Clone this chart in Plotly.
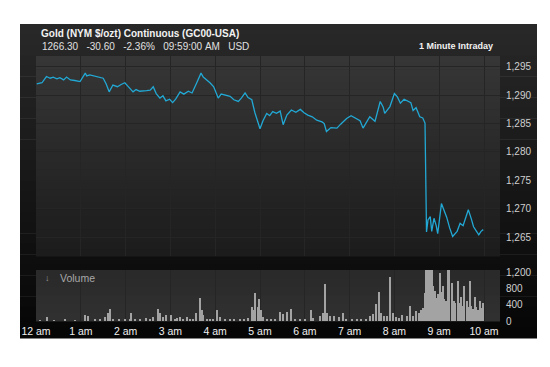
import pandas as pd
import plotly.graph_objects as go

# ---------------- data ----------------
# minutes after midnight, price
price_minutes = [1, 8, 14, 19, 23, 28, 32, 37, 41, 46, 52, 59, 66, 68, 72, 79, 86, 90, 94, 98,
                 103, 109, 114, 119, 123, 130, 134, 139, 148, 153, 157, 161, 166, 170, 174, 179,
                 183, 187, 193, 198, 204, 209, 215, 221, 224, 229, 233, 238, 244, 248, 254, 260,
                 265, 271, 275, 280, 284, 289, 293, 300, 304, 309, 313, 317, 322, 327, 331, 336,
                 342, 348, 354, 359, 364, 370, 376, 383, 386, 389, 395, 403, 408, 416, 422, 429,
                 434, 438, 442, 447, 454, 461, 465, 467, 474, 480, 484, 488, 493, 498, 502, 505,
                 509, 514, 518, 521, 523, 525, 528, 530, 533, 536, 538, 543, 546, 550, 554, 558,
                 564, 568, 572, 576, 579, 583, 586, 590, 593, 596, 599]
price_values = [1292.0, 1292.2, 1293.3, 1293.0, 1293.2, 1292.9, 1293.1, 1292.7, 1293.2, 1292.7,
                1292.6, 1292.4, 1293.9, 1293.4, 1293.6, 1293.4, 1293.2, 1293.0, 1292.0, 1290.6,
                1291.8, 1291.5, 1291.9, 1292.2, 1291.6, 1290.6, 1291.0, 1290.7, 1290.8, 1290.9,
                1291.5, 1290.3, 1289.5, 1289.9, 1289.0, 1289.3, 1288.7, 1289.3, 1290.6, 1290.2,
                1290.7, 1290.4, 1292.1, 1293.9, 1293.2, 1292.7, 1292.2, 1291.5, 1289.5, 1290.2,
                1290.0, 1289.8, 1289.2, 1288.9, 1289.5, 1290.4, 1289.6, 1289.2, 1287.0, 1284.1,
                1285.5, 1286.8, 1286.4, 1287.1, 1286.8, 1287.2, 1284.8, 1286.5, 1287.4, 1287.0,
                1287.5, 1286.9, 1286.5, 1286.2, 1285.6, 1285.3, 1285.0, 1283.6, 1284.3, 1284.2,
                1284.9, 1285.9, 1286.4, 1285.9, 1285.5, 1284.2, 1285.0, 1286.2, 1285.4, 1288.9,
                1287.9, 1286.8, 1288.0, 1290.3, 1289.7, 1288.6, 1289.3, 1288.9, 1288.7, 1287.3,
                1287.8, 1286.2, 1286.0, 1285.1, 1265.9, 1268.0, 1268.6, 1266.0, 1268.3, 1267.0,
                1265.6, 1270.9, 1270.0, 1268.5, 1266.6, 1265.1, 1266.0, 1267.4, 1267.0, 1268.4,
                1269.8, 1268.2, 1266.8, 1266.0, 1265.4, 1266.0, 1266.3]

# minutes after midnight, volume (contracts)
volume_minutes = [5, 15, 25, 39, 52, 66, 70, 79, 86, 92, 96, 99, 103, 112, 119, 126, 128, 133, 139,
                  147, 153, 157, 163, 166, 170, 175, 181, 186, 189, 193, 197, 202, 206, 210, 215,
                  220, 222, 224, 229, 233, 237, 242, 246, 253, 260, 266, 273, 279, 284, 289, 291,
                  294, 297, 299, 301, 304, 309, 315, 320, 327, 331, 336, 342, 347, 354, 360, 368,
                  371, 380, 384, 387, 390, 394, 400, 406, 411, 416, 423, 430, 436, 442, 447, 451,
                  456, 460, 462, 466, 470, 475, 478, 482, 487, 491, 497, 501, 505, 509, 513, 516,
                  518, 521, 523, 525, 527, 528, 530, 532, 533, 535, 537, 539, 541, 543, 545, 547,
                  549, 552, 554, 557, 558, 560, 562, 565, 567, 569, 571, 573, 574, 577, 579, 581,
                  583, 585, 588, 590, 592, 595, 597, 599]
volume_values = [20, 90, 20, 30, 20, 150, 120, 30, 40, 100, 190, 285, 60, 30, 40, 50, 190, 60, 40,
                 70, 40, 90, 290, 190, 90, 150, 140, 60, 80, 110, 60, 100, 40, 50, 190,
                 555, 270, 150, 60, 60, 40, 270, 100, 40, 30, 40, 30, 60, 80, 350, 270,
                 680, 350, 530, 270, 110, 50, 30, 40, 220, 180, 220, 300, 40, 40, 50, 270,
                 80, 120, 200, 915, 200, 120, 130, 100, 200, 50, 40, 40, 50, 40, 130, 160,
                 405, 710, 200, 120, 130, 1090, 200, 100, 80, 150, 120, 365, 120, 240, 200, 260,
                 325, 690, 1300, 1300, 1300, 1300, 1300, 850, 620, 730, 560, 650, 1180, 700, 850, 530,
                 480, 1300, 1300, 700, 930, 480, 440, 970, 450, 600, 380, 500, 850, 500, 350, 970,
                 360, 300, 600, 350, 280, 480, 320, 450]

price_ticks = [1265, 1270, 1275, 1280, 1285, 1290, 1295]
volume_ticks = [0, 400, 800, 1200]
volume_tick_labels = ["0", "400", "800", "1,200"]
hour_labels = ["12 am", "1 am", "2 am", "3 am", "4 am", "5 am", "6 am", "7 am", "8 am", "9 am", "10 am"]

title_text = "Gold (NYM $/ozt) Continuous (GC00-USA)"
info_text = "1266.30   -30.60   -2.36%   09:59:00 AM   USD"
interval_text = "1 Minute Intraday"

# ---------------- build ----------------
base = pd.Timestamp("2013-06-07 00:00")
px_t = [base + pd.Timedelta(minutes=m) for m in price_minutes]
vol_t = [base + pd.Timedelta(minutes=m) for m in volume_minutes]
hour_t = [base + pd.Timedelta(hours=h) for h in range(len(hour_labels))]

# page offset of the figure in the browser (body margin)
OFF = 8
W, H = 550, 367
L, R, T, B = 36, 500, 56, 321   # plot area in window pixels
PW, PH = R - L, B - T


def fx(px):
    return (px - L) / PW


def fy(py):
    return (B - py) / PH


def hexmix(c1, c2, t):
    a = [int(c1[i:i + 2], 16) for i in (1, 3, 5)]
    b = [int(c2[i:i + 2], 16) for i in (1, 3, 5)]
    return "#%02x%02x%02x" % tuple(round(a[i] + (b[i] - a[i]) * t) for i in range(3))


def gradient(x0, x1, y0, y1, ctop, cbot, n=24):
    out = []
    h = (y1 - y0) / n
    for i in range(n):
        out.append(dict(type="rect", xref="paper", yref="paper", layer="below",
                        x0=fx(x0), x1=fx(x1), y0=fy(y0 + (i + 1) * h + 0.5), y1=fy(y0 + i * h),
                        fillcolor=hexmix(ctop, cbot, i / (n - 1)), line=dict(width=0)))
    return out


shapes = []
shapes += gradient(20, 537, 24, 338, "#282828", "#060606", 30)   # outer dark panel
shapes += gradient(36, 500, 56, 256, "#363636", "#1c1c1c", 30)   # price panel
shapes += gradient(36, 500, 270, 321, "#2a2a2a", "#303030", 6)   # volume panel

price_dom = [fy(256), 1.0]
vol_dom = [0.0, fy(270)]
x_end = base + pd.Timedelta(minutes=PW * 60 / 44.8)

fig = go.Figure()
fig.add_trace(go.Scatter(x=px_t, y=price_values, mode="lines",
                         line=dict(color="#22a8d4", width=1.3), xaxis="x", yaxis="y",
                         hoverinfo="skip"))
fig.add_trace(go.Bar(x=vol_t, y=volume_values, marker=dict(color="#a3a3a3", line=dict(width=0)),
                     width=1.8 * 60 * 1000, xaxis="x2", yaxis="y2", hoverinfo="skip"))

grid = "#252525"
fig.update_layout(
    width=W - OFF, height=H - OFF,
    margin=dict(l=L - OFF, r=W - R, t=T - OFF, b=H - B, pad=0),
    paper_bgcolor="white", plot_bgcolor="rgba(0,0,0,0)",
    showlegend=False, shapes=shapes, bargap=0,
    font=dict(family="Liberation Sans, Arial, sans-serif", color="#d8d8d8", size=10),
    xaxis=dict(domain=[0, 1], anchor="y", range=[base, x_end], tickvals=hour_t,
               showticklabels=False, showgrid=True, gridcolor=grid, gridwidth=1,
               zeroline=False, showline=False, ticks=""),
    yaxis=dict(domain=price_dom, anchor="x", side="right", range=[1261.65, 1296.92],
               tickvals=price_ticks, ticktext=[f"{v:,}" for v in price_ticks],
               showgrid=True, gridcolor=grid, gridwidth=1, zeroline=False, ticks="",
               ticklabelstandoff=5, tickfont=dict(size=10, color="#cfcfcf")),
    xaxis2=dict(domain=[0, 1], anchor="y2", matches="x", range=[base, x_end], tickvals=hour_t,
                ticktext=hour_labels, showgrid=True, gridcolor=grid, zeroline=False, ticks="",
                tickfont=dict(size=10.5, color="#f0f0f0"), ticklabelstandoff=2),
    yaxis2=dict(domain=vol_dom, anchor="x2", side="right", range=[0, 1250],
                tickvals=volume_ticks, ticktext=volume_tick_labels, showgrid=False,
                zeroline=False, ticks="", ticklabelstandoff=5,
                tickfont=dict(size=10, color="#cfcfcf")),
    annotations=[
        dict(text="<b>" + title_text + "</b>", xref="paper", yref="paper", x=fx(39), y=fy(33),
             xanchor="left", yanchor="middle", showarrow=False,
             font=dict(size=10, color="#f2f2f2")),
        dict(text=info_text.replace(" ", "&nbsp;"), xref="paper", yref="paper", x=fx(40), y=fy(46),
             xanchor="left", yanchor="middle", showarrow=False,
             font=dict(size=10, color="#e0e0e0")),
        dict(text="<b>" + interval_text + "</b>", xref="paper", yref="paper", x=fx(495), y=fy(46),
             xanchor="right", yanchor="middle", showarrow=False,
             font=dict(size=9, color="#f2f2f2")),
        dict(text="↓", xref="paper", yref="paper", x=fx(47), y=fy(278),
             xanchor="center", yanchor="middle", showarrow=False,
             font=dict(size=9, color="#9a9a9a")),
        dict(text="Volume", xref="paper", yref="paper", x=fx(58), y=fy(278),
             xanchor="left", yanchor="middle", showarrow=False,
             font=dict(size=10.5, color="#a8a8a8")),
    ],
)

fig.write_html("out.html")
